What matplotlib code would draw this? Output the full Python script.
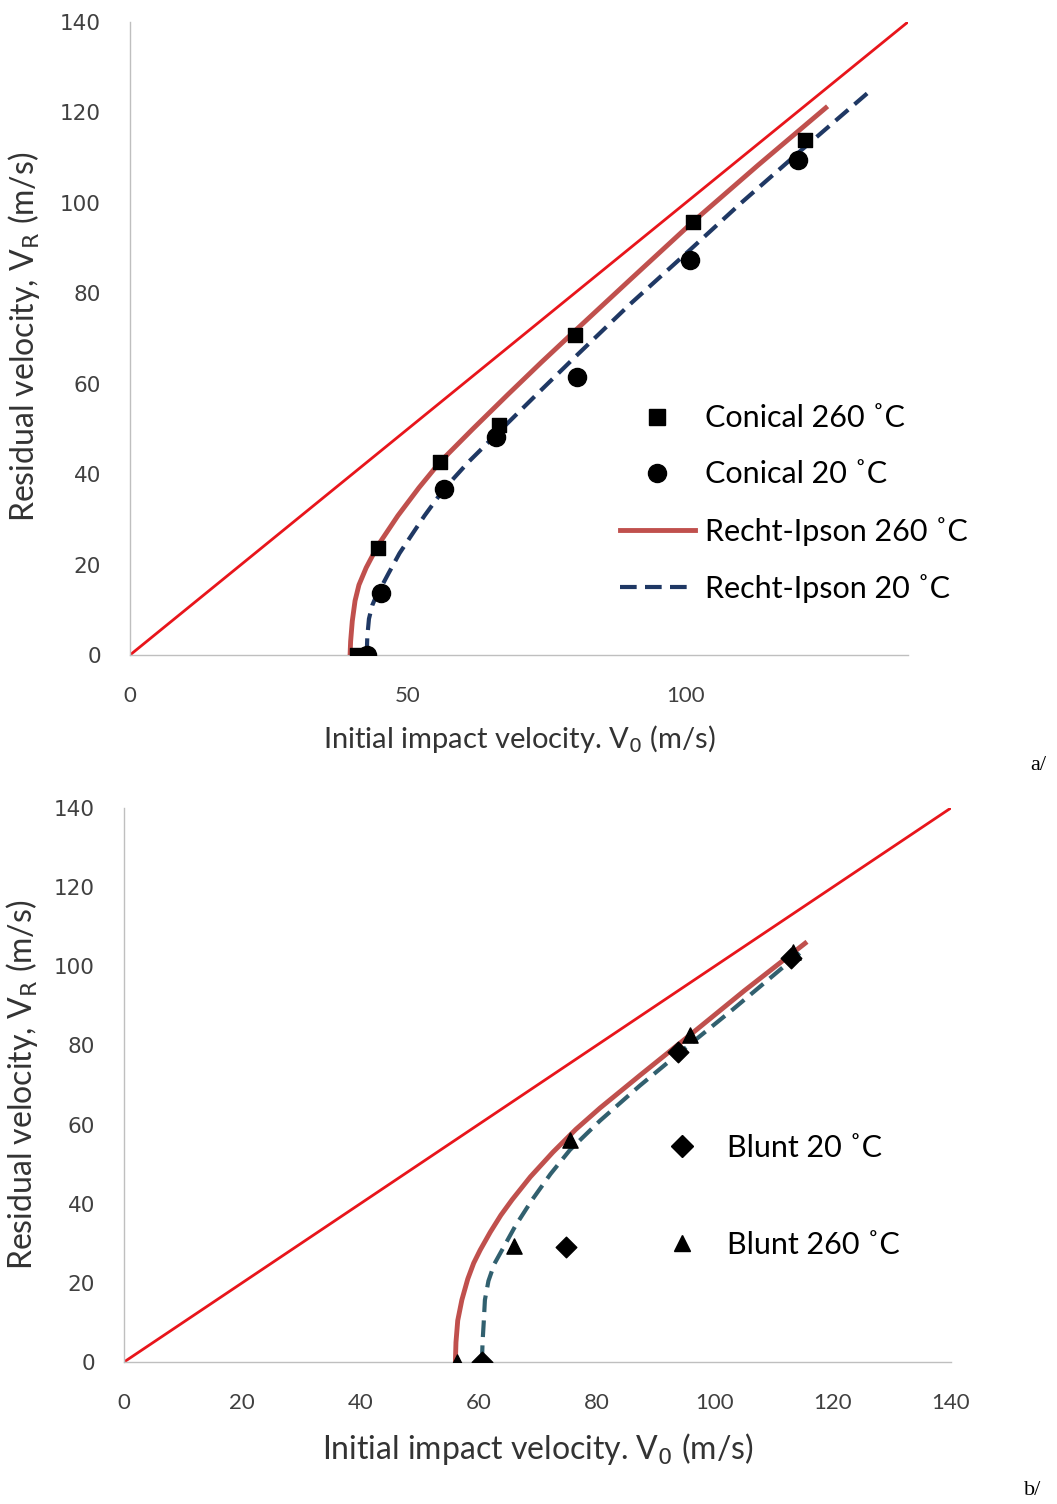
import numpy as np
import matplotlib
matplotlib.use("Agg")
import matplotlib.pyplot as plt
from matplotlib.lines import Line2D

# --- panel a/ : conical projectiles ---
con260_v0 = [40.8, 44.6, 55.8, 66.4, 80.1, 101.3, 121.5]
con260_vr = [0.0, 23.7, 42.7, 50.9, 70.8, 95.8, 113.9]
con20_v0 = [42.6, 45.2, 56.5, 65.9, 80.4, 100.8, 120.2]
con20_vr = [0.0, 13.7, 36.7, 48.2, 61.5, 87.4, 109.5]

# Recht-Ipson curves
ri260a_v0 = [39.6, 39.7, 40.0, 40.5, 41.2, 42.5, 44.6, 48.2, 52.0, 55.8, 61.7, 68.0, 74.0, 80.0, 90.0, 101.3, 113.0, 125.2]
ri260a_vr = [0.0, 3.0, 7.5, 12.0, 15.5, 19.3, 24.2, 30.8, 37.0, 42.7, 50.0, 57.6, 64.7, 71.6, 83.0, 95.8, 108.3, 121.0]
ri20a_v0 = [42.6, 42.7, 43.0, 43.6, 44.4, 45.2, 46.5, 48.5, 50.5, 53.0, 56.5, 61.0, 66.0, 73.0, 80.0, 90.0, 100.6, 110.0, 120.2, 133.7]
ri20a_vr = [0.0, 4.0, 8.0, 11.0, 13.3, 15.0, 18.0, 22.5, 26.2, 30.8, 36.7, 42.8, 48.9, 57.4, 65.8, 77.6, 89.4, 100.0, 111.0, 125.3]

# --- panel b/ : blunt projectiles ---
bl20_v0 = [60.6, 74.8, 93.8, 112.9]
bl20_vr = [0.0, 29.1, 78.3, 102.1]
bl260_v0 = [56.4, 66.0, 75.5, 95.8, 113.3]
bl260_vr = [0.0, 29.3, 56.1, 82.6, 103.6]

ri260b_v0 = [56.1, 56.2, 56.5, 57.2, 58.2, 59.2, 60.3, 62.0, 63.8, 65.7, 68.8, 72.6, 76.5, 80.6, 87.4, 95.8, 105.0, 115.3]
ri260b_vr = [0.0, 5.0, 10.5, 15.7, 21.0, 25.0, 28.3, 32.8, 37.1, 41.0, 46.8, 53.0, 58.8, 64.2, 72.5, 82.6, 93.8, 105.8]
ri20b_v0 = [60.6, 60.7, 60.9, 61.1, 61.7, 62.7, 64.0, 66.3, 69.1, 72.2, 75.5, 80.6, 87.3, 94.1, 103.0, 114.4]
ri20b_vr = [0.0, 5.0, 10.0, 15.7, 20.5, 24.8, 28.3, 34.5, 41.0, 47.5, 53.6, 61.0, 69.8, 78.2, 89.0, 103.3]

line_x = [0, 140]
solid_red = "#c0504d"
grey = "#bfbfbf"
label_font = "Lato"
ytick_font = "DejaVu Sans"
xtick_font = ["Liberation Sans Narrow", "Lato"]

fig = plt.figure(figsize=(10.57, 15.04), dpi=100)
ax1 = fig.add_axes([0.123, 0.5645, 0.736, 0.4209])
ax2 = fig.add_axes([0.1173, 0.0944, 0.7824, 0.3684])


def style(ax, xticks):
    ax.set_xlim(0, 140)
    ax.set_ylim(0, 140)
    ax.set_xticks(xticks)
    ax.set_yticks(range(0, 141, 20))
    for s in ["top", "right"]:
        ax.spines[s].set_visible(False)
    for s in ["left", "bottom"]:
        ax.spines[s].set_color(grey)
        ax.spines[s].set_linewidth(1.0)
    ax.tick_params(axis="y", length=0, pad=21)
    ax.tick_params(axis="x", length=0, pad=22)
    for t in ax.get_yticklabels():
        t.set_family(ytick_font)
        t.set_fontsize(15.5)
        t.set_color("#404040")
    for t in ax.get_xticklabels():
        t.set_family(xtick_font)
        t.set_fontsize(16)
        t.set_color("#404040")


# panel a
ax1.plot(line_x, line_x, color="#e8151b", lw=2, zorder=2)
ax1.plot(ri260a_v0, ri260a_vr, color=solid_red, lw=3.5, zorder=3)
ax1.plot(ri20a_v0, ri20a_vr, color="#1f3864", lw=3, ls=(0, (4, 2)), zorder=3)
ax1.scatter(con260_v0, con260_vr, marker="s", s=110, color="black", zorder=4)
ax1.scatter(con20_v0, con20_vr, marker="o", s=170, color="black", zorder=4)
style(ax1, [0, 50, 100])
ax1.set_xlabel("Initial impact velocity. V$_0$ (m/s)", family=label_font, fontsize=21, color="#333333")
ax1.set_ylabel("Residual velocity, V$_\\mathrm{R}$ (m/s)", family=label_font, fontsize=23, color="#333333")
ax1.xaxis.set_label_coords(0.5, -0.108)
ax1.yaxis.set_label_coords(-0.113, 0.502)

handles1 = [
    Line2D([], [], ls="none", marker="s", ms=11, color="black"),
    Line2D([], [], ls="none", marker="o", ms=13, color="black"),
    Line2D([], [], color=solid_red, lw=3.5),
    Line2D([], [], color="#1f3864", lw=3, ls=(0, (4, 2))),
]
labels1 = ["Conical 260 ˚C", "Conical 20 ˚C", "Recht-Ipson 260 ˚C", "Recht-Ipson 20 ˚C"]
fig.legend(handles1, labels1, loc="center left", bbox_to_anchor=(620 / 1057, 1 - 503.5 / 1504),
           bbox_transform=fig.transFigure, frameon=False,
           prop={"family": label_font, "size": 22}, handlelength=2.45, handletextpad=0.33,
           labelspacing=0.92, borderpad=0, borderaxespad=0)

# panel b
ax2.plot(line_x, line_x, color="#e8151b", lw=2, zorder=2)
ax2.plot(ri260b_v0, ri260b_vr, color=solid_red, lw=3.5, zorder=3)
ax2.plot(ri20b_v0, ri20b_vr, color="#31606f", lw=3, ls=(0, (4, 2)), zorder=3)
ax2.scatter(bl20_v0, bl20_vr, marker="D", s=110, color="black", zorder=4)
ax2.scatter(bl260_v0, bl260_vr, marker="^", s=120, color="black", zorder=4)
style(ax2, range(0, 141, 20))
ax2.set_xlabel("Initial impact velocity. V$_0$ (m/s)", family=label_font, fontsize=23, color="#333333")
ax2.set_ylabel("Residual velocity, V$_\\mathrm{R}$ (m/s)", family=label_font, fontsize=23, color="#333333")
ax2.xaxis.set_label_coords(0.5, -0.125)
ax2.yaxis.set_label_coords(-0.1016, 0.5)

handles2 = [
    Line2D([], [], ls="none", marker="D", ms=11, color="black"),
    Line2D([], [], ls="none", marker="^", ms=12, color="black"),
]
labels2 = ["Blunt 20 ˚C", "Blunt 260 ˚C"]
fig.legend(handles2, labels2, loc="center left", bbox_to_anchor=(659 / 1057, 1 - 1196.5 / 1504),
           bbox_transform=fig.transFigure, frameon=False,
           prop={"family": label_font, "size": 22}, handlelength=1.5, handletextpad=0.72,
           labelspacing=2.27, borderpad=0, borderaxespad=0)

fig.text(0.99, 0.491, "a/", family="Liberation Serif", fontsize=16, ha="right", va="center")
fig.text(0.985, 0.009, "b/", family="Liberation Serif", fontsize=16, ha="right", va="center")

fig.savefig("out.png", dpi=100)
